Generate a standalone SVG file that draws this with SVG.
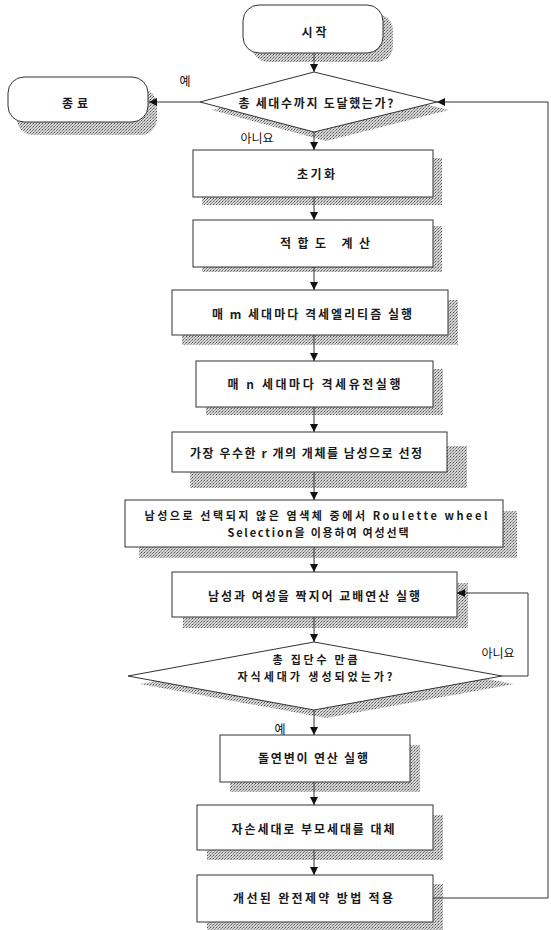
<svg xmlns="http://www.w3.org/2000/svg" width="551" height="930" viewBox="0 0 551 930">
<style>
.sh{fill:url(#ht);stroke:none}
.bx{fill:#fff;stroke:#333;stroke-width:1}
.t{font-family:"Noto Sans CJK KR","Noto Sans",sans-serif;font-size:12px;font-weight:bold;fill:#1a1a1a;text-anchor:middle;dominant-baseline:central}
.t2{font-size:11px}
.lb{font-family:"Noto Sans CJK KR","Noto Sans",sans-serif;font-size:12px;fill:#111;text-anchor:middle;dominant-baseline:central}
.cn{fill:none;stroke:#333;stroke-width:1}
</style>
<defs>
<pattern id="ht" width="3" height="3" patternUnits="userSpaceOnUse">
<rect width="3" height="3" fill="#d4d4d4"/>
<rect width="1" height="1" fill="#555"/>
<rect x="2" y="1" width="1" height="1" fill="#888"/>
<rect x="1" y="2" width="1" height="1" fill="#999"/>
</pattern>
<marker id="ah" markerUnits="userSpaceOnUse" markerWidth="8" markerHeight="8" refX="8" refY="4" orient="auto">
<path d="M0,0 L8,4 L0,8 z" fill="#111"/>
</marker>
</defs>

<g id="start">
<rect class="sh" x="252" y="14" width="141" height="48" rx="16"/>
<rect class="bx" x="243" y="5" width="140" height="48" rx="16"/>
<text class="t" x="314" y="31" textLength="25" lengthAdjust="spacing">시작</text>
</g>

<g id="end">
<rect class="sh" x="17" y="89" width="140" height="46" rx="16"/>
<rect class="bx" x="8" y="77" width="140" height="45" rx="16"/>
<text class="t" x="75" y="102" textLength="26" lengthAdjust="spacing">종료</text>
</g>

<g id="decision1">
<polygon class="sh" points="326,80 449,110 326,141 212,110"/>
<polygon class="bx" points="314,72 437,102 314,132 200,102"/>
<text class="t" x="316" y="102" textLength="155" lengthAdjust="spacing">총 세대수까지 도달했는가?</text>
</g>

<g id="init">
<rect class="sh" x="202" y="158" width="240" height="47"/>
<rect class="bx" x="193" y="150" width="240" height="47"/>
<text class="t" x="316" y="173" textLength="38" lengthAdjust="spacing">초기화</text>
</g>

<g id="fitness">
<rect class="sh" x="202" y="226" width="240" height="46"/>
<rect class="bx" x="193" y="220" width="240" height="47"/>
<text class="t" x="325" y="242" textLength="90" lengthAdjust="spacing">적합도 계산</text>
</g>

<g id="elitism">
<rect class="sh" x="182" y="300" width="276" height="45"/>
<rect class="bx" x="172" y="290" width="276" height="45"/>
<text class="t" x="312" y="313" textLength="200" lengthAdjust="spacing">매 m 세대마다 격세엘리티즘 실행</text>
</g>

<g id="atavism">
<rect class="sh" x="206" y="369" width="237" height="46"/>
<rect class="bx" x="196" y="361" width="237" height="46"/>
<text class="t" x="314" y="383" textLength="173" lengthAdjust="spacing">매 n 세대마다 격세유전실행</text>
</g>

<g id="select_male">
<rect class="sh" x="190" y="446" width="277" height="42"/>
<rect class="bx" x="172" y="432" width="275" height="40"/>
<text class="t" x="306" y="452" textLength="232" lengthAdjust="spacing">가장 우수한  r 개의 개체를 남성으로 선정</text>
</g>

<g id="select_female">
<rect class="sh" x="139" y="511" width="378" height="47"/>
<rect class="bx" x="125" y="500" width="378" height="47"/>
<text class="t t2" x="316" y="515" textLength="343" lengthAdjust="spacing">남성으로 선택되지 않은 염색체 중에서 Roulette wheel</text>
<text class="t t2" x="318" y="532" textLength="181" lengthAdjust="spacing">Selection을 이용하여 여성선택</text>
</g>

<g id="crossover">
<rect class="sh" x="183" y="583" width="285" height="45"/>
<rect class="bx" x="172" y="572" width="285" height="45"/>
<text class="t" x="314" y="595" textLength="212" lengthAdjust="spacing">남성과 여성을 짝지어 교배연산 실행</text>
</g>

<g id="decision2">
<polygon class="sh" points="326,649 514,684 326,718 140,684"/>
<polygon class="bx" points="314,642 502,676 314,710 128,676"/>
<text class="t t2" x="315" y="659" textLength="85" lengthAdjust="spacing">총 집단수 만큼</text>
<text class="t t2" x="315" y="676" textLength="155" lengthAdjust="spacing">자식세대가 생성되었는가?</text>
</g>

<g id="mutation">
<rect class="sh" x="230" y="745" width="190" height="47"/>
<rect class="bx" x="220" y="735" width="190" height="47"/>
<text class="t" x="313" y="757" textLength="110" lengthAdjust="spacing">돌연변이 연산 실행</text>
</g>

<g id="replace">
<rect class="sh" x="207" y="815" width="236" height="45"/>
<rect class="bx" x="197" y="805" width="236" height="45"/>
<text class="t" x="313" y="828" textLength="163" lengthAdjust="spacing">자손세대로 부모세대를 대체</text>
</g>

<g id="constraint">
<rect class="sh" x="207" y="884" width="236" height="46"/>
<rect class="bx" x="197" y="875" width="236" height="47"/>
<text class="t" x="313" y="897" textLength="160" lengthAdjust="spacing">개선된 완전제약 방법 적용</text>
</g>

<g id="connectors">
<path class="cn" d="M314,53 V72" marker-end="url(#ah)"/>
<path class="cn" d="M200,102 H149" marker-end="url(#ah)"/>
<path class="cn" d="M314,132 V150" marker-end="url(#ah)"/>
<path class="cn" d="M314,197 V220" marker-end="url(#ah)"/>
<path class="cn" d="M314,267 V290" marker-end="url(#ah)"/>
<path class="cn" d="M314,335 V361" marker-end="url(#ah)"/>
<path class="cn" d="M314,407 V432" marker-end="url(#ah)"/>
<path class="cn" d="M314,472 V500" marker-end="url(#ah)"/>
<path class="cn" d="M314,547 V572" marker-end="url(#ah)"/>
<path class="cn" d="M314,617 V642" marker-end="url(#ah)"/>
<path class="cn" d="M314,710 V735" marker-end="url(#ah)"/>
<path class="cn" d="M314,782 V805" marker-end="url(#ah)"/>
<path class="cn" d="M314,850 V875" marker-end="url(#ah)"/>
<path class="cn" d="M433,898 H548 V102 H437" marker-end="url(#ah)"/>
<path class="cn" d="M502,676 H528 V593 H457" marker-end="url(#ah)"/>
<text class="lb" x="185" y="80" font-size="11">예</text>
<text class="lb" x="257" y="137">아니요</text>
<text class="lb" x="498" y="652">아니요</text>
<text class="lb" x="280" y="728" font-size="11">예</text>
</g>
</svg>
